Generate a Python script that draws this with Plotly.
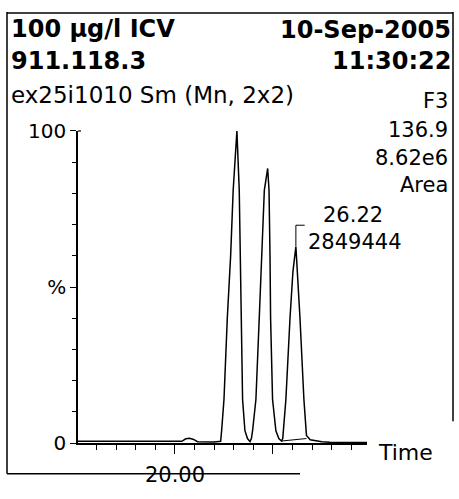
import plotly.graph_objects as go

# ---- data ----
time_min = [15.05, 16.0, 17.0, 18.0, 19.0, 20.0, 20.35, 20.55, 20.75, 20.95, 21.15,
            22.0, 22.33, 22.38, 22.5, 22.67, 22.84, 22.97, 23.16, 23.28, 23.33, 23.38,
            23.45, 23.57, 23.7, 23.83, 23.9, 23.96, 24.13, 24.3, 24.45, 24.56, 24.73,
            24.8, 24.85, 24.88, 24.98, 25.15, 25.3, 25.44, 25.5, 25.53, 25.66, 25.87,
            26.02, 26.17, 26.25, 26.38, 26.58, 26.71, 26.9, 27.14, 27.5, 27.9, 28.5,
            29.0, 29.8]
intensity_pct = [0.6, 0.6, 0.5, 0.5, 0.5, 0.4, 0.6, 1.4, 1.6, 1.2, 0.5,
                 0.4, 0.6, 4, 14, 40, 60, 81, 100, 81, 60, 40,
                 14, 4, 1.5, 0.5, 1.5, 4, 14, 40, 62, 81, 88,
                 81, 60, 40, 14, 4, 1.5, 0.7, 1.5, 4, 14, 40,
                 55, 63, 55, 40, 14, 2.5, 1.1, 0.8, 0.5, 0.3, 0.2,
                 0.2, 0.2]

# integration baseline under the labelled peak
base_time = [25.44, 26.71]
base_pct = [0.7, 1.5]

peak_rt = 26.17
peak_label_rt = "26.22"
peak_label_area = "2849444"

x_tickvals = [20, 25]
x_ticktext = ["20.00", ""]
y_tickvals = [0, 50, 100]
y_ticktext = ["0", "%", "100"]

W, H = 459, 499
FONT = "DejaVu Sans, Liberation Sans, sans-serif"


def px(x):
    return x / W


def py(y):
    return 1 - y / H


fig = go.Figure()
fig.add_trace(go.Scatter(x=time_min, y=intensity_pct, mode="lines",
                         line=dict(color="black", width=1.5), showlegend=False,
                         hoverinfo="skip"))
fig.add_trace(go.Scatter(x=base_time, y=base_pct, mode="lines",
                         line=dict(color="black", width=1), showlegend=False,
                         hoverinfo="skip"))

fig.update_layout(
    width=W, height=H,
    margin=dict(l=0, r=0, t=0, b=0),
    paper_bgcolor="white", plot_bgcolor="white",
    font=dict(family=FONT, color="black", size=21),
    xaxis=dict(domain=[px(78), px(367)], range=[15.05, 29.8],
               showgrid=False, zeroline=False, showline=True, linecolor="black",
               linewidth=1.5, tickvals=x_tickvals, ticktext=x_ticktext,
               ticks="outside", ticklen=9, tickcolor="black", tickwidth=1.2,
               tickfont=dict(size=21), ticklabelstandoff=3,
               minor=dict(dtick=1, tick0=0, ticks="outside", ticklen=5,
                          tickcolor="black", tickwidth=1)),
    yaxis=dict(domain=[py(453), py(125)], range=[0, 100],
               showgrid=False, zeroline=False, showline=True, linecolor="black",
               linewidth=1.5, tickvals=y_tickvals, ticktext=y_ticktext,
               ticks="outside", ticklen=6, tickcolor="black", tickwidth=1.2,
               tickfont=dict(size=20),
               minor=dict(dtick=10, tick0=0, ticks="outside", ticklen=4,
                          tickcolor="black", tickwidth=1)),
)

texts = [
    ("<b>100 \u00b5g/l ICV</b>", 9, 18, "left", 24),
    ("<b>911.118.3</b>", 9, 51, "left", 24),
    ("<b>10-Sep-2005</b>", 453, 19, "right", 24),
    ("<b>11:30:22</b>", 453, 52, "right", 24),
    ("ex25i1010 Sm (Mn, 2x2)", 9, 87, "left", 23),
    ("F3", 450, 93, "right", 21),
    ("136.9", 450, 124, "right", 21),
    ("8.62e6", 450, 153, "right", 21),
    ("Area", 450, 182, "right", 21),
    (peak_label_rt, 353, 213, "center", 21),
    (peak_label_area, 306, 242, "left", 21),
    ("Time", 376, 463, "left", 22),
]
for t, x, y, anc, s in texts:
    fig.add_annotation(text=t, x=px(x), y=py(y), xref="paper", yref="paper",
                       xanchor=anc, yanchor="middle", showarrow=False,
                       font=dict(size=s, family=FONT, color="black"))

# peak label bracket
fig.add_shape(type="line", xref="x", yref="paper", x0=peak_rt, x1=peak_rt,
              y0=py(246), y1=py(224), line=dict(color="black", width=1))
fig.add_shape(type="line", xref="x", yref="paper", x0=peak_rt, x1=peak_rt + 0.45,
              y0=py(224), y1=py(224), line=dict(color="black", width=1))

# small hook at the top of the y axis
fig.add_shape(type="line", xref="paper", yref="paper", x0=px(78), x1=px(81),
              y0=py(125), y1=py(125), line=dict(color="black", width=1.2))

# page frame
frame = dict(color="black", width=1.5)
fig.add_shape(type="line", xref="paper", yref="paper", x0=px(7), x1=px(7),
              y0=py(0), y1=py(485), line=frame)
fig.add_shape(type="line", xref="paper", yref="paper", x0=px(7), x1=px(300),
              y0=py(485), y1=py(485), line=frame)
fig.add_shape(type="line", xref="paper", yref="paper", x0=px(453), x1=px(453),
              y0=py(0), y1=py(430), line=frame)
fig.add_shape(type="line", xref="paper", yref="paper", x0=px(7), x1=px(453),
              y0=py(1), y1=py(1), line=frame)

fig.write_html("out.html")
